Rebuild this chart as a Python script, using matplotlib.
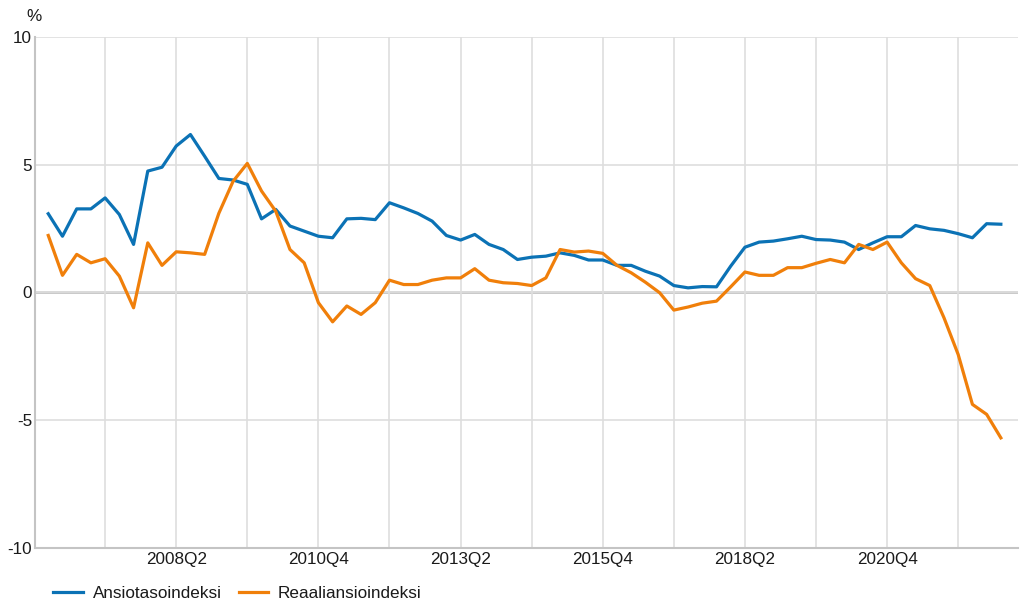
import matplotlib.pyplot as plt

plt.rcParams['font.family'] = ['Liberation Sans', 'DejaVu Sans']

quarters = [f"{y}Q{q}" for y in range(2006, 2023) for q in range(1, 5)]

ansiotaso = [3.08, 2.20, 3.27, 3.27, 3.70, 3.05, 1.88, 4.75, 4.90, 5.73,
             6.18, 5.33, 4.46, 4.40, 4.23, 2.88, 3.25, 2.60, 2.40, 2.20,
             2.14, 2.88, 2.90, 2.85, 3.51, 3.31, 3.09, 2.79, 2.23, 2.05,
             2.27, 1.88, 1.68, 1.29, 1.38, 1.42, 1.55, 1.45, 1.27, 1.27,
             1.06, 1.06, 0.83, 0.64, 0.27, 0.18, 0.23, 0.22, 1.03, 1.77,
             1.97, 2.01, 2.10, 2.20, 2.07, 2.05, 1.97, 1.68, 1.94, 2.18,
             2.18, 2.62, 2.49, 2.43, 2.30, 2.14, 2.69, 2.67]

reaali = [2.23, 0.67, 1.49, 1.16, 1.32, 0.64, -0.60, 1.94, 1.06, 1.59,
          1.55, 1.49, 3.10, 4.35, 5.05, 3.97, 3.18, 1.68, 1.16, -0.40,
          -1.15, -0.53, -0.86, -0.40, 0.48, 0.31, 0.31, 0.48, 0.57, 0.57,
          0.93, 0.48, 0.38, 0.35, 0.27, 0.57, 1.68, 1.58, 1.62, 1.53,
          1.06, 0.77, 0.40, -0.01, -0.69, -0.57, -0.42, -0.34, 0.22, 0.80,
          0.67, 0.67, 0.97, 0.97, 1.14, 1.29, 1.16, 1.88, 1.68, 1.97,
          1.16, 0.54, 0.27, -0.99, -2.43, -4.38, -4.77, -5.69]

series_names = ["Ansiotasoindeksi", "Reaaliansioindeksi"]
colors = ["#0b72b5", "#f07f0a"]

fig = plt.figure(figsize=(10.22, 6.02), dpi=100)
ax = fig.add_axes([0.034, 0.0897, 0.962, 0.849])

x = list(range(len(quarters)))
ax.plot(x, ansiotaso, color=colors[0], lw=2.3, label=series_names[0], zorder=3)
ax.plot(x, reaali, color=colors[1], lw=2.3, label=series_names[1], zorder=3)

ax.set_xlim(-0.95, 68.2)
ax.set_ylim(-10, 10)
ax.set_yticks([-10, -5, 0, 5, 10])
ax.set_yticklabels(["-10", "-5", "0", "5", "10"])

grid_pos = list(range(4, 68, 5))
ax.set_xticks(grid_pos)
ax.set_xticklabels([quarters[i] if (i - 9) % 10 == 0 else "" for i in grid_pos])

ax.grid(True, color="#dedede", lw=1.2, zorder=0)
ax.axhline(0, color="#c4c4c4", lw=2, zorder=1)
ax.tick_params(length=0, labelsize=12.3, colors="#1a1a1a", pad=3)
ax.tick_params(axis='y', pad=2)
for s in ["top", "right"]:
    ax.spines[s].set_visible(False)
for s in ["left", "bottom"]:
    ax.spines[s].set_color("#c4c4c4")
    ax.spines[s].set_linewidth(1.5)

fig.text(0.026, 0.965, "%", fontsize=12.3, color="#1a1a1a")

fig.legend(loc="lower left", bbox_to_anchor=(0.037, -0.024), ncol=2, frameon=False,
           fontsize=12.3, handlelength=1.75, handletextpad=0.55, columnspacing=1.0,
           labelcolor="#1a1a1a")

fig.savefig("out.png", dpi=100)
